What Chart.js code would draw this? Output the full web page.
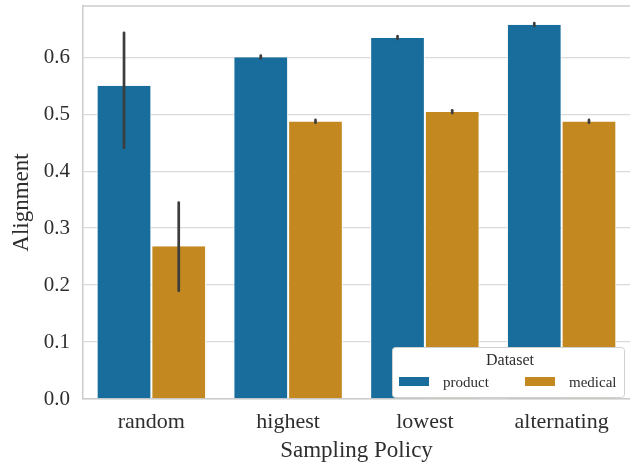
<!DOCTYPE html>
<html lang="en">
<head>
  <meta charset="UTF-8" />
  <title>Alignment by Sampling Policy</title>
  <script src="https://cdn.jsdelivr.net/npm/chart.js"></script>
  <style>
    body { margin: 0; background: #fff; overflow: hidden; }
    #wrap { width: 630px; height: 465px; }
  </style>
</head>
<body>
<div id="wrap"><canvas id="chart" width="630" height="465"></canvas></div>
<script>
const policies = ['random', 'highest', 'lowest', 'alternating'];
const yTicks = [0.0, 0.1, 0.2, 0.3, 0.4, 0.5, 0.6];

const productMean = [0.550, 0.600, 0.634, 0.657];
const productLow  = [0.441, 0.598, 0.632, 0.655];
const productHigh = [0.643, 0.603, 0.637, 0.660];

const medicalMean = [0.268, 0.487, 0.504, 0.487];
const medicalLow  = [0.190, 0.485, 0.502, 0.485];
const medicalHigh = [0.345, 0.490, 0.507, 0.490];

const textColor = '#2e2e2e';
const serif = '"Liberation Serif", "DejaVu Serif", serif';

// error bars drawn from the low/high arrays through the y scale
const errorBars = {
  id: 'errorBars',
  afterDatasetsDraw(chart) {
    const ctx = chart.ctx;
    const y = chart.scales.y;
    const ranges = [[productLow, productHigh], [medicalLow, medicalHigh]];
    ctx.save();
    ctx.strokeStyle = '#3d3d3d';
    ctx.lineWidth = 2.7;
    ctx.lineCap = 'round';
    ranges.forEach((r, di) => {
      chart.getDatasetMeta(di).data.forEach((bar, i) => {
        ctx.beginPath();
        ctx.moveTo(bar.x, y.getPixelForValue(r[0][i]));
        ctx.lineTo(bar.x, y.getPixelForValue(r[1][i]));
        ctx.stroke();
      });
    });
    ctx.restore();
  }
};

// top spine + inset legend in the lower right
const frameAndLegend = {
  id: 'frameAndLegend',
  afterDraw(chart) {
    const ctx = chart.ctx;
    const a = chart.chartArea;
    ctx.save();
    ctx.strokeStyle = '#cccccc';
    ctx.lineWidth = 1.5;
    ctx.beginPath();
    ctx.moveTo(a.left, a.top);
    ctx.lineTo(a.right, a.top);
    ctx.stroke();

    const bx = 392, by = 347, bw = 232, bh = 50;
    ctx.fillStyle = '#ffffff';
    ctx.strokeStyle = '#d0d0d0';
    ctx.lineWidth = 1;
    ctx.beginPath();
    ctx.roundRect(bx + 0.5, by + 0.5, bw, bh, 3);
    ctx.fill();
    ctx.stroke();

    ctx.fillStyle = textColor;
    ctx.font = '16px ' + serif;
    ctx.textAlign = 'center';
    ctx.textBaseline = 'middle';
    ctx.fillText('Dataset', bx + bw / 2 + 2, by + 14);

    ctx.textAlign = 'left';
    ctx.font = '15px ' + serif;
    chart.data.datasets.forEach((ds, i) => {
      const x0 = bx + 7 + i * 126;
      ctx.fillStyle = ds.backgroundColor;
      ctx.fillRect(x0, by + 30, 30, 9);
      ctx.fillStyle = textColor;
      ctx.fillText(ds.label, x0 + 44, by + 36);
    });
    ctx.restore();
  }
};

new Chart(document.getElementById('chart').getContext('2d'), {
  type: 'bar',
  data: {
    labels: policies,
    datasets: [
      { label: 'product', data: productMean, backgroundColor: '#186d9c',
        borderColor: '#ffffff', borderWidth: { left: 1, right: 1, top: 0, bottom: 0 }, borderSkipped: false },
      { label: 'medical', data: medicalMean, backgroundColor: '#c3881f',
        borderColor: '#ffffff', borderWidth: { left: 1, right: 1, top: 0, bottom: 0 }, borderSkipped: false }
    ]
  },
  options: {
    responsive: false,
    animation: false,
    layout: { padding: { top: 6, right: 0, left: 0, bottom: 0 } },
    datasets: { bar: { categoryPercentage: 0.8, barPercentage: 1.0 } },
    plugins: { legend: { display: false }, tooltip: { enabled: false } },
    scales: {
      x: {
        grid: { display: false, drawTicks: false },
        border: { color: '#cccccc', width: 1.5 },
        ticks: { color: textColor, font: { family: serif, size: 22 }, padding: 10 },
        title: { display: true, text: 'Sampling Policy', color: textColor,
                 font: { family: serif, size: 23 }, padding: { top: 0, bottom: 0 } },
        afterFit: s => { s.height = 66; s.paddingLeft = 0; s.paddingRight = 0; }
      },
      y: {
        min: 0, max: 0.69,
        afterBuildTicks: s => { s.ticks = yTicks.map(v => ({ value: v })); },
        grid: { color: '#dadada', lineWidth: 1.3, drawTicks: false },
        border: { color: '#cccccc', width: 1.5 },
        ticks: { color: textColor, font: { family: serif, size: 21 }, padding: 13,
                 callback: v => v.toFixed(1) },
        title: { display: true, text: 'Alignment', color: textColor,
                 font: { family: serif, size: 23 }, padding: { top: 8, bottom: 0 } },
        afterFit: s => { s.width = 83; s.paddingTop = 0; s.paddingBottom = 0; }
      }
    }
  },
  plugins: [errorBars, frameAndLegend]
});
</script>
</body>
</html>
